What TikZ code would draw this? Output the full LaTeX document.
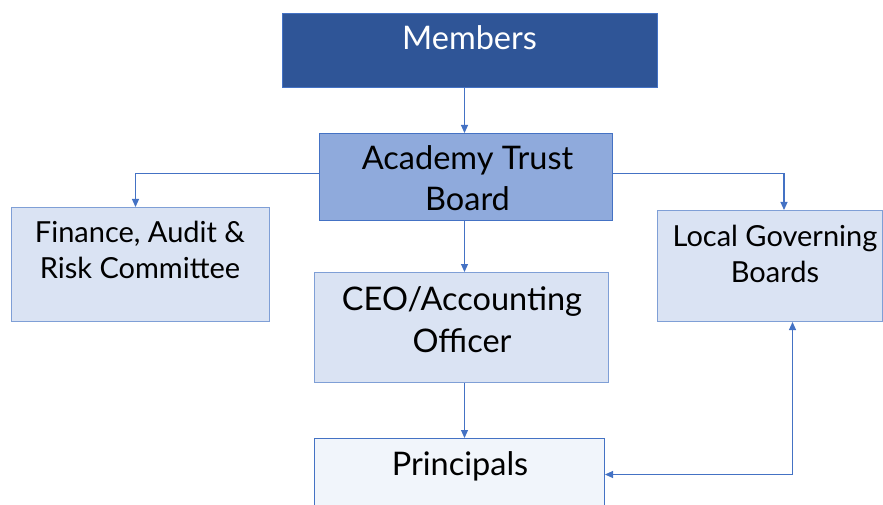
\documentclass[tikz,border=0pt]{standalone}
\usepackage{fontspec}
\setmainfont{Lato}
\usetikzlibrary{arrows.meta,positioning}
\definecolor{dkblue}{HTML}{2F5597}
\definecolor{midblue}{HTML}{8FAADC}
\definecolor{ltblue}{HTML}{DAE3F3}
\definecolor{paleblue}{HTML}{F1F5FB}
\definecolor{lineblue}{HTML}{4472C4}
\definecolor{edgeblue}{HTML}{7F9FD6}
\tikzset{
  box/.style={draw=edgeblue, line width=1pt, rectangle, anchor=north west, inner sep=0pt},
  bigtxt/.style={anchor=base, inner sep=0pt, font=\fontsize{32.5}{32.5}\selectfont},
  smalltxt/.style={anchor=base, inner sep=0pt, font=\fontsize{29}{29}\selectfont},
  conn/.style={draw=lineblue, line width=1.1pt, -{Triangle[length=8pt,width=7pt]}},
  biconn/.style={draw=lineblue, line width=1.1pt, {Triangle[length=8pt,width=7pt]}-{Triangle[length=8pt,width=7pt]}}
}
\begin{document}
\begin{tikzpicture}[x=1pt,y=-1pt]
\useasboundingbox (0,0) rectangle (883,505);
% boxes
\node[box, fill=dkblue, draw=lineblue, minimum width=375pt, minimum height=74pt] (members) at (282,13) {};
\node[box, fill=midblue, draw=lineblue, minimum width=293pt, minimum height=87pt] (atb) at (319,133) {};
\node[box, fill=ltblue, minimum width=258pt, minimum height=114pt] (fac) at (11,207) {};
\node[box, fill=ltblue, minimum width=225pt, minimum height=111pt] (lgb) at (657,210) {};
\node[box, fill=ltblue, minimum width=294pt, minimum height=110pt] (ceo) at (314,272) {};
\node[box, fill=paleblue, draw=lineblue, minimum width=290pt, minimum height=67pt] (prin) at (314,438) {};
% texts
\node[bigtxt, text=white] (tmembers) at (469.5,50) {Members};
\node[bigtxt] (tatb1) at (467.5,170) {Academy Trust};
\node[bigtxt] (tatb2) at (467.5,211) {Board};
\node[smalltxt] (tfac1) at (140,242) {Finance, Audit \&};
\node[smalltxt] (tfac2) at (140,278) {Risk Committee};
\node[smalltxt] (tlgb1) at (775,246) {Local Governing};
\node[smalltxt] (tlgb2) at (775,282) {Boards};
\node[bigtxt] (tceo1) at (462,310) {CEO/Accounting};
\node[bigtxt] (tceo2) at (462,352) {Officer};
\node[bigtxt] (tprin) at (460,475) {Principals};
% connectors
\draw[conn] ([xshift=-1.5pt]atb.north |- members.south) -- ([xshift=-1.5pt]atb.north);
\draw[conn] ([yshift=3.5pt]atb.west) -| ([xshift=-5pt]fac.north);
\draw[conn] ([yshift=3.5pt]atb.east) -| ([xshift=14pt]lgb.north);
\draw[conn] ([xshift=-1.5pt]atb.south) -- ([xshift=-1.5pt]atb.south |- ceo.north);
\draw[conn] ([xshift=-1.5pt]atb.south |- ceo.south) -- ([xshift=-1.5pt]atb.south |- prin.north);
\draw[biconn] ([yshift=-2.5pt]prin.east) -| ([xshift=22.5pt]lgb.south);
\end{tikzpicture}
\end{document}
